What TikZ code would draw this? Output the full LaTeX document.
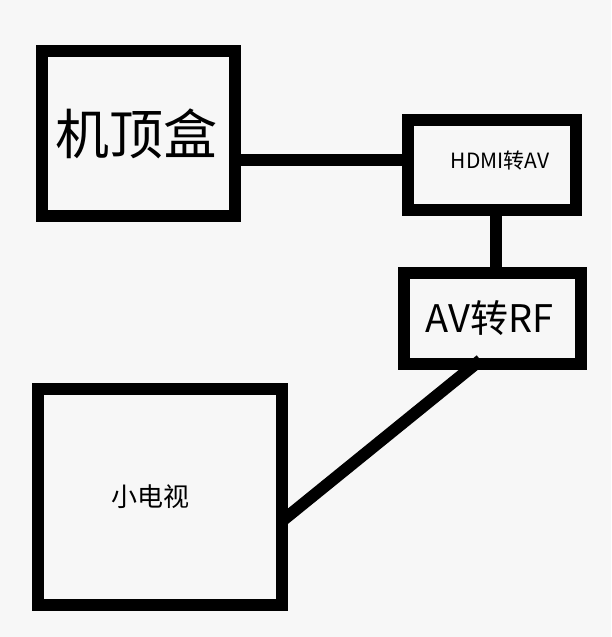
\documentclass[tikz,border=0pt]{standalone}
\usepackage{fontspec}
\newfontfamily\cjk{Noto Sans CJK SC}
\definecolor{paper}{HTML}{F7F7F7}

\begin{document}
\begin{tikzpicture}[x=1pt, y=-1pt, line join=miter,
    devbox/.style={draw, line width=12pt, inner sep=0pt},
    cable/.style={line width=12pt}]

    % canvas (pixel units, y pointing down)
    \fill[paper] (0,0) rectangle (611,637);
    \useasboundingbox (0,0) rectangle (611,637);

    % devices
    \node[devbox, minimum width=193pt, minimum height=165pt,
          font=\cjk\fontsize{54}{60}\selectfont] (stb) at (138.5,133.5) {机顶盒\hspace*{4pt}};
    \node[devbox, minimum width=168pt, minimum height=90pt,
          font=\cjk\fontsize{21}{24}\selectfont] (hdmi) at (492,165) {\hspace*{16pt}HDMI转AV\raisebox{0pt}[0pt][10pt]{}};
    \node[devbox, minimum width=177pt, minimum height=91pt,
          font=\cjk\fontsize{38}{42}\selectfont] (avrf) at (492.5,318.5) {AV转RF\hspace*{6pt}};
    \node[devbox, minimum width=244pt, minimum height=216pt,
          font=\cjk\fontsize{26}{30}\selectfont] (tv) at (160,497) {小电视\hspace*{20pt}};

    % cables
    \draw[cable] ([yshift=-26pt]stb.east) -- ([yshift=-26pt]stb.east -| hdmi.west);
    \draw[cable] ([xshift=4pt]hdmi.south) -- ([xshift=4pt]hdmi.south |- avrf.north);
    \draw[cable] ([xshift=-12pt,yshift=10pt]avrf.south) -- ([xshift=-6pt,yshift=-24pt]tv.east);

\end{tikzpicture}
\end{document}
